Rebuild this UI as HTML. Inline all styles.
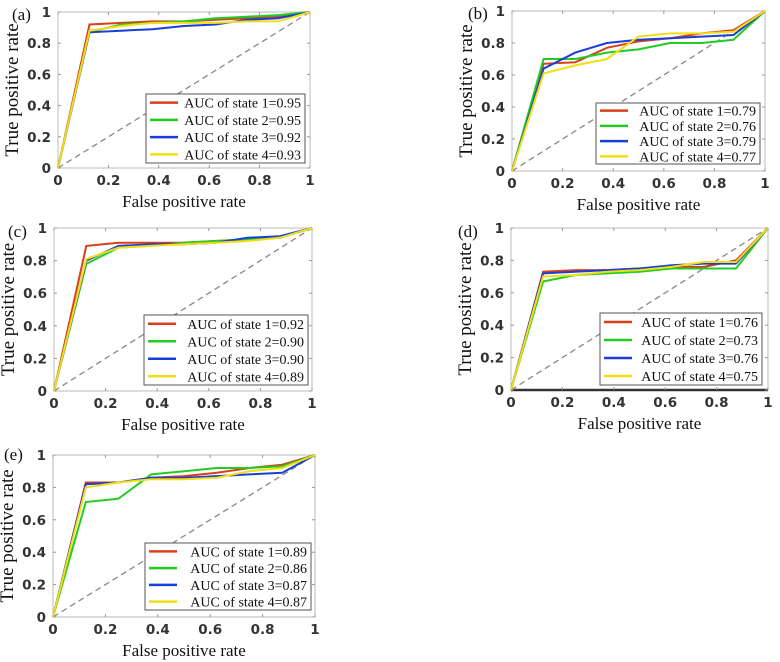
<!DOCTYPE html>
<html><head><meta charset="utf-8"><style>
html,body{margin:0;padding:0;background:#fff;width:780px;height:662px;overflow:hidden}
svg{display:block}
.tk{font-family:"DejaVu Sans","Liberation Sans",sans-serif;font-weight:bold;font-size:13.5px;fill:#333}
.lb{font-family:"Liberation Serif",serif;font-size:17px;fill:#111}
.yl{font-family:"Liberation Serif",serif;font-size:19px;fill:#111}
.lg{font-family:"Liberation Serif",serif;font-size:14px;fill:#111}
</style></head><body>
<svg id="fig" width="780" height="662"></svg>
<script>
const fprs=[0,0.125,0.25,0.375,0.5,0.625,0.75,0.875,1];
const ticks=[0,0.2,0.4,0.6,0.8,1];
const tickLabels=["0","0.2","0.4","0.6","0.8","1"];
const colors=["#d9401a","#22cc22","#1a3fd9","#f2de14"];
const panelLetters=["(a)","(b)","(c)","(d)","(e)"];
const aucA=["0.95","0.95","0.92","0.93"];
const aucB=["0.79","0.76","0.79","0.77"];
const aucC=["0.92","0.90","0.90","0.89"];
const aucD=["0.76","0.73","0.76","0.75"];
const aucE=["0.89","0.86","0.87","0.87"];
const tprA=[[0,.92,.93,.94,.94,.95,.96,.97,1],[0,.87,.92,.93,.94,.96,.97,.98,1],[0,.87,.88,.89,.91,.92,.95,.96,1],[0,.88,.91,.93,.93,.93,.94,.94,1]];
const tprB=[[0,.67,.68,.77,.81,.83,.86,.88,1],[0,.70,.70,.74,.76,.80,.80,.82,1],[0,.64,.74,.80,.82,.83,.84,.85,1],[0,.61,.66,.70,.84,.86,.86,.87,1]];
const tprC=[[0,.89,.91,.91,.91,.92,.93,.94,1],[0,.78,.88,.89,.91,.92,.93,.94,1],[0,.80,.89,.90,.90,.91,.94,.95,1],[0,.81,.88,.89,.90,.91,.92,.94,1]];
const tprD=[[0,.73,.74,.74,.75,.76,.76,.80,1],[0,.67,.71,.72,.73,.75,.75,.75,1],[0,.72,.73,.74,.75,.77,.78,.78,1],[0,.70,.71,.73,.74,.76,.79,.79,1]];
const tprE=[[0,.83,.83,.86,.87,.89,.92,.94,1],[0,.71,.73,.88,.90,.92,.92,.93,1],[0,.82,.83,.86,.86,.87,.88,.89,1],[0,.80,.83,.85,.85,.86,.90,.92,1]];

const NS="http://www.w3.org/2000/svg";
const svg=document.getElementById('fig');
function mk(tag,attrs,parent,text){const e=document.createElementNS(NS,tag);for(const k in attrs)e.setAttribute(k,attrs[k]);if(text!==undefined)e.textContent=text;(parent||svg).appendChild(e);return e;}

const layouts=[
 {x0:58,x1:310,y0:12,y1:168,lx:146,ly:94,lw:159,lh:69,lab:[12,15],thick:false},
 {x0:512,x1:765,y0:11,y1:171,lx:596,ly:103,lw:164,lh:61,lab:[468,14],thick:false},
 {x0:54,x1:312,y0:228,y1:391,lx:144,ly:315,lw:164,lh:70,lab:[8,232],thick:false},
 {x0:511,x1:768,y0:228,y1:390,lx:600,ly:313,lw:162,lh:72,lab:[458,232],thick:true},
 {x0:53,x1:315,y0:455,y1:617,lx:145,ly:543,lw:166,lh:67,lab:[4,455],thick:false}
];
const tprs=[tprA,tprB,tprC,tprD,tprE];
const aucs=[aucA,aucB,aucC,aucD,aucE];

layouts.forEach((L,p)=>{
 const g=mk('g',{},svg);
 
 
 const sx=v=>L.x0+v*(L.x1-L.x0), sy=v=>L.y1-v*(L.y1-L.y0);
 const box=mk('rect',{x:L.x0,y:L.y0,width:L.x1-L.x0,height:L.y1-L.y0,fill:'none',stroke:'#bbb','stroke-width':1},g);
 
 if(L.thick){const a=mk('line',{x1:L.x0,x2:L.x1,y1:L.y1,y2:L.y1,stroke:'#333','stroke-width':2.5},g);}
 ticks.forEach((t,i)=>{
  mk('line',{x1:sx(t),x2:sx(t),y1:L.y1,y2:L.y1-3,stroke:'#999'},g);
  mk('line',{x1:sx(t),x2:sx(t),y1:L.y0,y2:L.y0+3,stroke:'#999'},g);
  mk('line',{x1:L.x0,x2:L.x0+3,y1:sy(t),y2:sy(t),stroke:'#999'},g);
  mk('line',{x1:L.x1,x2:L.x1-3,y1:sy(t),y2:sy(t),stroke:'#999'},g);
  const xt=mk('text',{x:sx(t),y:L.y1+17,'text-anchor':'middle',class:'tk'},g,tickLabels[i]);
  
  const yt=mk('text',{x:L.x0-7,y:sy(t)+5,'text-anchor':'end',class:'tk'},g,tickLabels[i]);
  
 });
 const xl=mk('text',{x:(L.x0+L.x1)/2,y:L.y1+39,'text-anchor':'middle',class:'lb'},g,'False positive rate');
 
 const yc=(L.y0+L.y1)/2, yx=L.x0-40;
 const yl=mk('text',{x:yx,y:yc,'text-anchor':'middle',class:'yl',transform:`rotate(-90 ${yx} ${yc})`},g,'True positive rate');
 
 const pl=mk('text',{x:L.lab[0],y:L.lab[1]+5,class:'lb'},g,panelLetters[p]);
 
 const d=mk('line',{x1:sx(0),y1:sy(0),x2:sx(1),y2:sy(1),stroke:'#888','stroke-width':1.3,'stroke-dasharray':'6,4'},g);
 
 tprs[p].forEach((s,k)=>{
  const pts=s.map((v,i)=>sx(fprs[i]).toFixed(1)+','+sy(v).toFixed(1)).join(' ');
  const pl2=mk('polyline',{points:pts,fill:'none',stroke:colors[k],'stroke-width':2},g);
  
 });
 const lg=mk('g',{},g);
 
 mk('rect',{x:L.lx,y:L.ly,width:L.lw,height:L.lh,fill:'#fff',stroke:'#555','stroke-width':1},lg);
 const rh=L.lh/4;
 aucs[p].forEach((a,k)=>{
  const cy=L.ly+rh*(k+0.5);
  const e=mk('g',{},lg);
  
  mk('line',{x1:L.lx+4,x2:L.lx+32,y1:cy,y2:cy,stroke:colors[k],'stroke-width':2.5},e);
  mk('text',{x:L.lx+L.lw-4,y:cy+5,class:'lg','text-anchor':'end'},e,'AUC of state '+(k+1)+'='+a);
 });
});
</script>
</body></html>
